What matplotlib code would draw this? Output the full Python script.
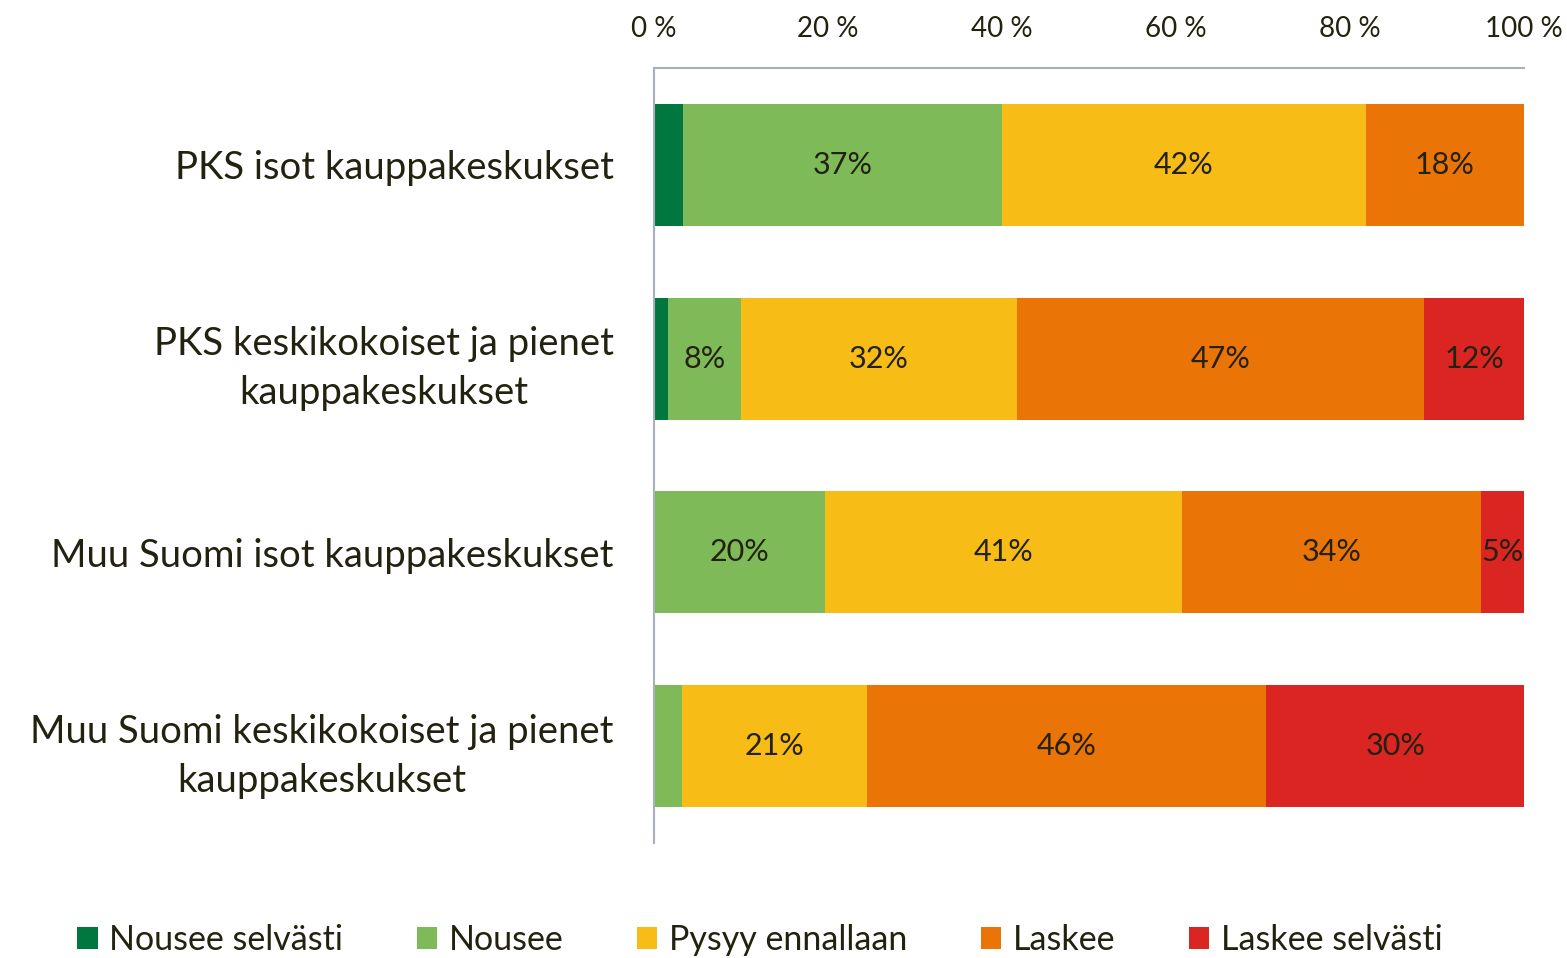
import numpy as np
import matplotlib.pyplot as plt

plt.rcParams['font.family'] = ['Lato', 'DejaVu Sans']

categories = ['PKS isot kauppakeskukset',
              'PKS keskikokoiset ja pienet\nkauppakeskukset',
              'Muu Suomi isot kauppakeskukset',
              'Muu Suomi keskikokoiset ja pienet\nkauppakeskukset']
series = ['Nousee selvästi', 'Nousee', 'Pysyy ennallaan', 'Laskee', 'Laskee selvästi']
nousee_selvasti = [3.3, 1.6, 0.0, 0.0]
nousee = [36.7, 8.4, 19.7, 3.2]
pysyy = [41.8, 31.7, 41.0, 21.3]
laskee = [18.2, 46.8, 34.4, 45.9]
laskee_selvasti = [0.0, 11.5, 4.9, 29.6]
colors = ['#00773F', '#7FBA59', '#F8BC17', '#EA7406', '#DA2522']
text_color = '#23210F'

data = [nousee_selvasti, nousee, pysyy, laskee, laskee_selvasti]

fig = plt.figure(figsize=(15.67, 9.58), dpi=100)
ax = fig.add_axes([654 / 1567, 1 - 843 / 958, (1524 - 654) / 1567, (843 - 68) / 958])

y = np.arange(len(categories))
left = np.zeros(len(categories))
for name, vals, col in zip(series, data, colors):
    vals = np.array(vals)
    ax.barh(y, vals, left=left, height=0.63, color=col, label=name,
            edgecolor='none')
    for i, v in enumerate(vals):
        if v >= 4.5:
            ax.text(left[i] + v / 2, y[i], '%d%%' % round(v), ha='center',
                    va='center', fontsize=22, color=text_color)
    left += vals

ax.set_xlim(0, 100)
ax.set_ylim(3.5, -0.5)
ax.xaxis.tick_top()
ax.set_xticks(np.arange(0, 101, 20))
ax.set_xticklabels(['%d %%' % t for t in range(0, 101, 20)])
ax.tick_params(axis='x', length=0, pad=19, labelsize=20, colors=text_color)
ax.set_yticks(y)
ax.set_yticklabels(categories, fontsize=27.5, color=text_color, ha='right',
                   multialignment='center', linespacing=1.45)
ax.tick_params(axis='y', length=0, pad=29)
for s in ['right', 'bottom']:
    ax.spines[s].set_visible(False)
for s in ['top', 'left']:
    ax.spines[s].set_color('#A9B0BA')
    ax.spines[s].set_linewidth(1.5)

leg = fig.legend(loc='center', bbox_to_anchor=(0.485, 0.019), ncol=5,
                 frameon=False, fontsize=24.5, handlelength=0.6,
                 handleheight=0.6, handletextpad=0.35, columnspacing=2.15)
for t in leg.get_texts():
    t.set_color(text_color)

fig.savefig('out.png', dpi=100)
